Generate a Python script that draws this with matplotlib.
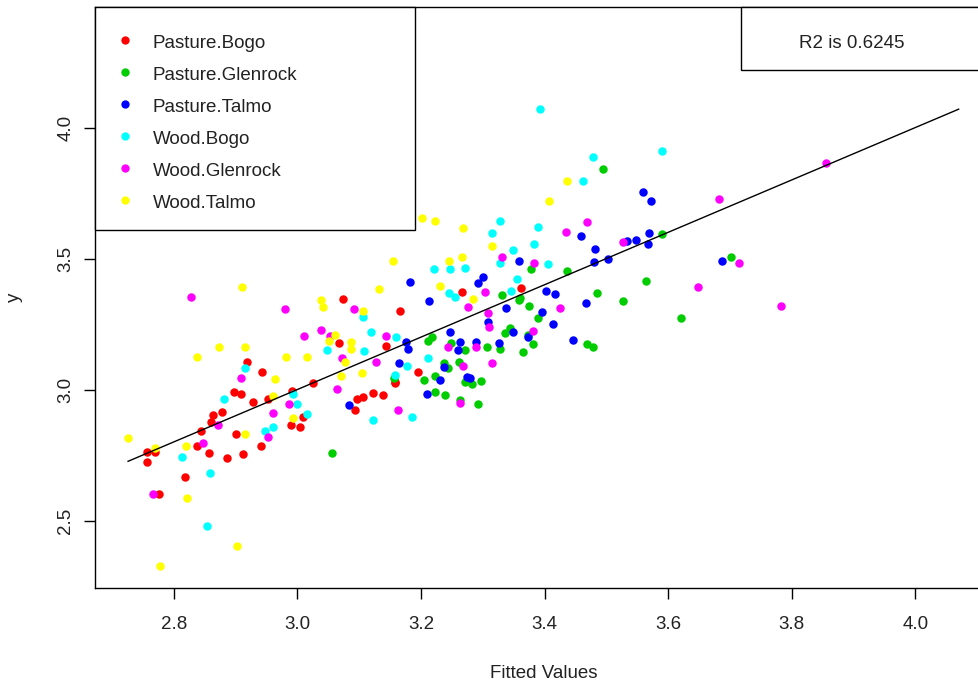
import matplotlib
matplotlib.use("Agg")
import matplotlib.pyplot as plt
from matplotlib.patches import Rectangle
from matplotlib.lines import Line2D

plt.rcParams['font.family'] = ['Liberation Sans', 'DejaVu Sans']

# ---- data: fitted values (x) and observed response (y) by group ----
groups = ["Pasture.Bogo", "Pasture.Glenrock", "Pasture.Talmo",
          "Wood.Bogo", "Wood.Glenrock", "Wood.Talmo"]
colors = ["#FF0000", "#00CD00", "#0000FF", "#00FFFF", "#FF00FF", "#FFFF00"]

pb_x = [2.756, 2.769, 2.756, 2.897, 2.908, 2.928, 2.952, 2.991, 2.878, 2.863,
        2.860, 2.844, 2.900, 2.989, 3.004, 2.941, 2.837, 2.857, 2.886, 2.912,
        2.818, 2.776, 2.918, 2.942, 3.025, 3.158, 3.096, 3.106, 3.122, 3.138,
        3.094, 3.009, 3.266, 3.073, 3.166, 3.067, 3.143, 3.195, 3.158, 3.362]
pb_y = [2.761, 2.761, 2.723, 2.990, 2.983, 2.952, 2.964, 2.994, 2.914, 2.903,
        2.876, 2.842, 2.830, 2.865, 2.857, 2.784, 2.784, 2.758, 2.739, 2.754,
        2.666, 2.601, 3.105, 3.067, 3.025, 3.025, 2.964, 2.971, 2.987, 2.979,
        2.922, 2.895, 3.372, 3.345, 3.300, 3.177, 3.166, 3.067, 3.029, 3.387]

pg_x = [3.205, 3.222, 3.239, 3.271, 3.263, 3.056, 3.211, 3.217, 3.248, 3.271,
        3.237, 3.243, 3.261, 3.222, 3.156, 3.358, 3.374, 3.389, 3.344, 3.336,
        3.373, 3.381, 3.468, 3.478, 3.306, 3.328, 3.365, 3.297, 3.282, 3.292,
        3.378, 3.436, 3.331, 3.360, 3.484, 3.527, 3.494, 3.590, 3.701, 3.564,
        3.620]
pg_y = [3.036, 2.990, 2.979, 3.029, 2.960, 2.758, 3.185, 3.200, 3.177, 3.151,
        3.101, 3.082, 3.105, 3.052, 3.044, 3.342, 3.319, 3.273, 3.235, 3.216,
        3.208, 3.174, 3.174, 3.162, 3.162, 3.155, 3.143, 3.032, 3.021, 2.945,
        3.460, 3.452, 3.361, 3.349, 3.368, 3.338, 3.842, 3.594, 3.506, 3.414,
        3.273]

pt_x = [3.230, 3.209, 3.083, 3.183, 3.213, 3.175, 3.179, 3.247, 3.263, 3.260,
        3.164, 3.237, 3.274, 3.337, 3.467, 3.308, 3.395, 3.413, 3.349, 3.373,
        3.446, 3.289, 3.326, 3.279, 3.459, 3.481, 3.533, 3.548, 3.358, 3.480,
        3.502, 3.300, 3.292, 3.402, 3.417, 3.559, 3.572, 3.569, 3.567, 3.687]
pt_y = [3.036, 2.983, 2.941, 3.410, 3.338, 3.181, 3.155, 3.219, 3.181, 3.151,
        3.101, 3.086, 3.048, 3.311, 3.330, 3.258, 3.296, 3.250, 3.219, 3.200,
        3.189, 3.181, 3.177, 3.044, 3.586, 3.536, 3.567, 3.571, 3.490, 3.487,
        3.498, 3.429, 3.406, 3.376, 3.365, 3.754, 3.719, 3.597, 3.555, 3.490]

wb_x = [2.881, 2.993, 2.999, 2.947, 2.960, 2.813, 2.858, 2.853, 2.915, 3.015,
        3.122, 3.185, 3.221, 3.247, 3.272, 3.245, 3.255, 3.106, 3.119, 3.159,
        3.048, 3.107, 3.211, 3.177, 3.158, 3.328, 3.315, 3.389, 3.349, 3.383,
        3.328, 3.405, 3.355, 3.345, 3.392, 3.478, 3.462, 3.590]
wb_y = [2.964, 2.983, 2.945, 2.842, 2.857, 2.742, 2.681, 2.479, 3.082, 2.906,
        2.884, 2.895, 3.460, 3.460, 3.464, 3.368, 3.353, 3.277, 3.219, 3.200,
        3.151, 3.147, 3.120, 3.090, 3.055, 3.643, 3.597, 3.620, 3.532, 3.555,
        3.483, 3.479, 3.422, 3.376, 4.071, 3.887, 3.796, 3.910]

wg_x = [2.871, 2.847, 2.766, 2.986, 2.960, 2.952, 2.908, 2.828, 2.980, 3.064,
        3.162, 3.263, 3.091, 3.276, 3.010, 3.039, 3.052, 3.143, 3.243, 3.072,
        3.127, 3.268, 3.308, 3.425, 3.310, 3.381, 3.289, 3.315, 3.468, 3.434,
        3.527, 3.331, 3.383, 3.303, 3.683, 3.714, 3.648, 3.782, 3.855]
wg_y = [2.865, 2.796, 2.601, 2.945, 2.910, 2.819, 3.044, 3.353, 3.307, 3.002,
        2.922, 2.948, 3.307, 3.315, 3.204, 3.227, 3.204, 3.204, 3.162, 3.120,
        3.105, 3.090, 3.292, 3.311, 3.239, 3.223, 3.162, 3.101, 3.639, 3.601,
        3.563, 3.506, 3.483, 3.372, 3.727, 3.483, 3.391, 3.319, 3.864]

wt_x = [2.726, 2.769, 2.960, 2.915, 2.993, 2.819, 2.821, 2.902, 2.777, 2.963,
        2.910, 2.873, 2.915, 2.837, 2.981, 3.154, 3.245, 3.266, 3.132, 3.230,
        3.038, 3.041, 3.106, 3.061, 3.051, 3.086, 3.086, 3.015, 3.077, 3.070,
        3.104, 3.201, 3.222, 3.268, 3.284, 3.407, 3.315, 3.436]
wt_y = [2.815, 2.777, 2.975, 2.830, 2.891, 2.784, 2.586, 2.403, 2.326, 3.040,
        3.391, 3.162, 3.162, 3.124, 3.124, 3.490, 3.490, 3.506, 3.384, 3.395,
        3.342, 3.315, 3.300, 3.208, 3.185, 3.181, 3.155, 3.124, 3.105, 3.052,
        3.063, 3.655, 3.643, 3.616, 3.345, 3.719, 3.548, 3.796]

series_x = [pb_x, pg_x, pt_x, wb_x, wg_x, wt_x]
series_y = [pb_y, pg_y, pt_y, wb_y, wg_y, wt_y]

# reference line y = fitted over the fitted range
fit_line = [2.726, 4.070]

x_ticks = [2.8, 3.0, 3.2, 3.4, 3.6, 3.8, 4.0]
y_ticks = [2.5, 3.0, 3.5, 4.0]
r2_text = "R2 is 0.6245"

# ---- figure ----
W, H = 979, 682
fig = plt.figure(figsize=(W / 100, H / 100), dpi=100)
fig.patch.set_facecolor("white")

def fx(px):
    return px / W

def fy(py):
    return 1 - py / H

left, right, top, bottom = 95, 991.6, 7, 588
ax = fig.add_axes([fx(left), fy(bottom), (right - left) / W, (bottom - top) / H])
ax.set_xlim(2.6725, 4.1233)
ax.set_ylim(2.2424, 4.460)

for xs, ys, c in zip(series_x, series_y, colors):
    ax.scatter(xs, ys, s=37, c=c, linewidths=0, zorder=3)

ax.plot(fit_line, fit_line, color="black", lw=1.0, zorder=4)

fs = 13.5
ax.set_xticks(x_ticks)
ax.set_xticklabels([f"{v:.1f}" for v in x_ticks], fontsize=fs, color="#222222")
ax.set_yticks(y_ticks)
ax.set_yticklabels([f"{v:.1f}" for v in y_ticks], fontsize=fs, color="#222222",
                   rotation=90, va="center")
ax.tick_params(axis="x", length=8, width=1.0, pad=12.5, direction="out")
ax.tick_params(axis="y", length=8, width=1.0, pad=7, direction="out")
for sp in ax.spines.values():
    sp.set_linewidth(1.0)
    sp.set_color("black")

ax.set_xlabel("Fitted Values", fontsize=fs, color="#222222", va="baseline")
ax.xaxis.set_label_coords(0.5, -(678 - bottom) / (bottom - top))
ax.set_ylabel("y", fontsize=fs, color="#222222", va="center")
ax.yaxis.set_label_coords((14 - left) / (right - left), 0.5)

# ---- group legend (top-left box) ----
leg_box = Rectangle((fx(95), fy(230)), (415 - 95) / W, (230 - 7) / H,
                    transform=fig.transFigure, facecolor="white",
                    edgecolor="black", lw=1.0, zorder=5)
fig.patches.append(leg_box)
row0, row_step = 39.5, 32
for i, (name, c) in enumerate(zip(groups, colors)):
    yy = row0 + i * row_step
    fig.add_artist(Line2D([fx(125)], [fy(yy)], marker="o", markersize=6,
                          markerfacecolor=c, markeredgewidth=0,
                          linestyle="none", transform=fig.transFigure, zorder=6))
    fig.text(fx(153), fy(yy + 8.5), name, fontsize=fs, color="#222222",
             ha="left", va="baseline", zorder=6)

# ---- R2 box (top-right) ----
r2_box = Rectangle((fx(741), fy(70)), (right - 741) / W, (70 - 7) / H,
                   transform=fig.transFigure, facecolor="white",
                   edgecolor="black", lw=1.0, zorder=5)
fig.patches.append(r2_box)
fig.text(fx(852), fy(48.5), r2_text, fontsize=fs, color="#222222",
         ha="center", va="baseline", zorder=6)

fig.savefig("out.png", dpi=100)
